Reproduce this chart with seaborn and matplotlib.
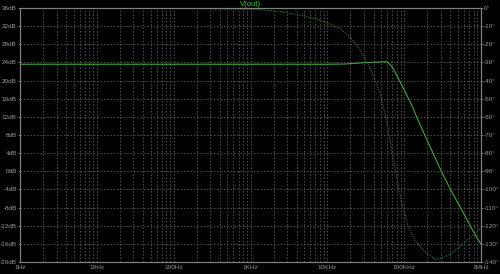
import numpy as np
import pandas as pd
import matplotlib
matplotlib.use("Agg")
import matplotlib.pyplot as plt
import seaborn as sns
from matplotlib.ticker import FixedLocator, LogLocator, NullFormatter

# ---- data ----
mag_freq = [1, 10, 100, 1000, 10000, 17000, 25000, 35000, 48000, 55000, 60000,
            64000, 69000, 80000, 93000, 108000, 130000, 151000, 198000, 293000,
            400000, 533000, 795000, 1000000]
mag_db = [23.6, 23.6, 23.6, 23.6, 23.6, 23.65, 23.85, 24.0, 24.1, 24.15, 24.1,
          23.7, 23.1, 21.2, 19.0, 16.8, 14.0, 11.3, 6.9, 0.6,
          -4.0, -7.8, -13.3, -16.1]

ph_freq = [1, 100, 1330, 2420, 4410, 8030, 10800, 14600, 19700, 26600, 35900,
           48500, 60000, 65400, 80000, 93000, 113000, 138000, 187000, 252000,
           308000, 416000, 561000, 836000, 1000000]
ph_deg = [0, -0.1, -0.9, -2.0, -3.9, -6.6, -8.8, -11.5, -16, -23, -32.5,
          -47, -63, -73, -93, -107.5, -120.5, -127.9, -134.3, -138.5,
          -138, -135.2, -130.6, -124.2, -121.5]

x_ticks = [1, 10, 100, 1000, 10000, 100000, 1000000]
x_labels = ["1Hz", "10Hz", "100Hz", "1KHz", "10KHz", "100KHz", "1MHz"]
db_ticks = list(range(-20, 37, 4))
db_labels = [f"{v}dB" for v in db_ticks]
deg_ticks = list(range(-140, 1, 10))
deg_labels = [f"{v}°" for v in deg_ticks]
trace_name = "V(out)"

# ---- styling ----
sns.set_style("dark")
plt.rcParams["font.family"] = ["Liberation Sans", "DejaVu Sans"]
BG = "black"
GRID = "#555555"
AXC = "#808080"
TXT = "#999999"
MAGC = "#3fa53f"
PHC = "#2a742a"

fig = plt.figure(figsize=(5.0, 2.74), dpi=100, facecolor=BG)
ax = fig.add_axes([20 / 500, 1 - 262 / 274, 461 / 500, 254 / 274])
ax.set_facecolor(BG)

mag_df = pd.DataFrame({"f": mag_freq, "db": mag_db})
ph_df = pd.DataFrame({"f": ph_freq, "deg": ph_deg})

sns.lineplot(data=mag_df, x="f", y="db", ax=ax, color=MAGC, linewidth=0.8)
ax.set_xscale("log")
ax.set_xlim(1, 1e6)
ax.set_ylim(-20, 36)

ax2 = ax.twinx()
sns.lineplot(data=ph_df, x="f", y="deg", ax=ax2, color=PHC, linewidth=0.8,
             linestyle=(0, (1, 1)))
ax2.set_xscale("log")
ax2.set_xlim(1, 1e6)
ax2.set_ylim(-140, 0)

for a in (ax, ax2):
    a.set_xlabel("")
    a.set_ylabel("")
    for s in a.spines.values():
        s.set_color(AXC)
        s.set_linewidth(0.8)

ax.xaxis.set_major_locator(FixedLocator(x_ticks))
ax.set_xticklabels(x_labels)
ax.xaxis.set_minor_locator(LogLocator(base=10, subs=np.arange(2, 10), numticks=20))
ax.xaxis.set_minor_formatter(NullFormatter())
ax.set_yticks(db_ticks)
ax.set_yticklabels(db_labels)
ax2.set_yticks(deg_ticks)
ax2.set_yticklabels(deg_labels)

ax.tick_params(axis="both", which="major", colors=AXC, labelcolor=TXT,
               labelsize=4.6, length=1.5, width=0.6, pad=0.8)
ax.tick_params(axis="x", which="minor", length=0)
ax2.tick_params(axis="y", which="major", colors=AXC, labelcolor=TXT,
                labelsize=4.6, length=1.5, width=0.6, pad=0.8)

ax.grid(True, which="major", axis="both", color=GRID, linestyle=(0, (2, 2)),
        linewidth=0.6)
ax.grid(True, which="minor", axis="x", color=GRID, linestyle=(0, (2, 2)),
        linewidth=0.6)
ax2.grid(False)
ax.set_axisbelow(True)

fig.text(250 / 500, 1 - 4 / 274, trace_name, color="#2ecc2e", fontsize=5.5,
         ha="center", va="center")

fig.savefig("out.png", dpi=100, facecolor=BG)
